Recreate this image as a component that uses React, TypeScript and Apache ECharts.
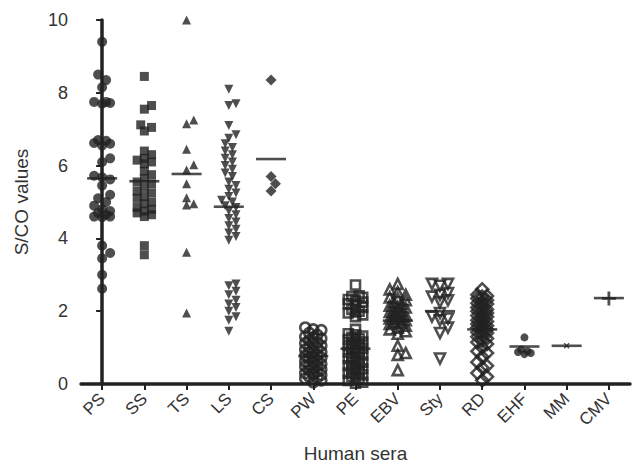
import React, { useEffect, useRef } from "react";
import * as echarts from "echarts";

const categories = ["PS", "SS", "TS", "LS", "CS", "PW", "PE", "EBV", "Sty", "RD", "EHF", "MM", "CMV"];

const PS = [9.4, 8.5, 8.35, 8.15, 7.75, 7.75, 7.72, 7.7, 6.7, 6.68, 6.62, 6.6, 6.55, 6.2, 6.1, 5.72, 5.68, 5.62, 5.45, 5.2, 5.1, 5.0, 4.9, 4.8, 4.75, 4.7, 4.65, 4.6, 4.6, 4.58, 3.8, 3.6, 3.45, 3.0, 2.62];
const SS = [8.45, 7.65, 7.55, 7.12, 7.05, 6.95, 6.4, 6.3, 6.2, 6.15, 6.1, 6.05, 5.85, 5.75, 5.65, 5.55, 5.5, 5.4, 5.3, 5.25, 5.15, 5.1, 5.0, 4.95, 4.85, 4.8, 4.75, 4.7, 4.65, 4.6, 3.8, 3.55];
const TS = [10.0, 7.25, 7.15, 6.45, 6.02, 5.88, 5.5, 5.12, 4.95, 4.92, 3.62, 1.95];
const LS = [8.1, 7.7, 7.65, 7.1, 6.85, 6.75, 6.6, 6.5, 6.4, 6.3, 6.2, 6.1, 6.0, 5.9, 5.8, 5.7, 5.55, 5.45, 5.35, 5.25, 5.15, 5.05, 5.0, 4.9, 4.85, 4.75, 4.65, 4.55, 4.45, 4.35, 4.25, 4.15, 4.05, 3.95, 2.75, 2.7, 2.55, 2.45, 2.3, 2.2, 2.1, 2.0, 1.85, 1.75, 1.45];
const CS = [8.35, 5.7, 5.5, 5.3];
const PW = [1.55, 1.5, 1.48, 1.4, 1.35, 1.3, 1.28, 1.25, 1.2, 1.15, 1.12, 1.1, 1.05, 1.0, 0.98, 0.95, 0.9, 0.88, 0.85, 0.8, 0.78, 0.75, 0.72, 0.7, 0.65, 0.62, 0.6, 0.55, 0.52, 0.5, 0.48, 0.45, 0.4, 0.38, 0.35, 0.3, 0.28, 0.25, 0.2, 0.18, 0.15, 0.1, 0.05];
const PE = [2.72, 2.42, 2.4, 2.38, 2.32, 2.3, 2.25, 2.2, 2.15, 2.1, 2.05, 2.0, 1.98, 1.95, 1.9, 1.85, 1.5, 1.38, 1.35, 1.32, 1.28, 1.25, 1.22, 1.18, 1.15, 1.1, 1.08, 1.05, 1.0, 0.98, 0.95, 0.9, 0.88, 0.85, 0.8, 0.75, 0.72, 0.7, 0.65, 0.6, 0.58, 0.55, 0.5, 0.45, 0.42, 0.4, 0.35, 0.3, 0.28, 0.25, 0.2, 0.15, 0.1, 0.05, 0.02];
const EBV = [2.75, 2.6, 2.52, 2.45, 2.38, 2.35, 2.3, 2.25, 2.2, 2.15, 2.12, 2.1, 2.05, 2.0, 1.98, 1.95, 1.9, 1.88, 1.85, 1.8, 1.78, 1.75, 1.7, 1.68, 1.65, 1.6, 1.55, 1.5, 1.45, 1.38, 1.05, 0.85, 0.8, 0.38];
const Sty = [2.75, 2.75, 2.7, 2.5, 2.45, 2.4, 2.3, 2.25, 1.95, 1.85, 1.8, 1.75, 1.55, 1.4, 0.7];
const RD = [2.6, 2.45, 2.42, 2.4, 2.35, 2.3, 2.25, 2.22, 2.2, 2.15, 2.1, 2.05, 2.02, 2.0, 1.95, 1.9, 1.88, 1.85, 1.8, 1.75, 1.72, 1.7, 1.65, 1.6, 1.58, 1.55, 1.5, 1.45, 1.42, 1.4, 1.35, 1.3, 1.25, 1.2, 1.15, 1.1, 1.0, 0.9, 0.85, 0.75, 0.6, 0.5, 0.45, 0.3, 0.2, 0.1];
const EHF = [1.28, 0.95, 0.9, 0.88, 0.85, 0.82];
const MM = [1.05];
const CMV = [2.35];

const groupMeans = [5.65, 5.57, 5.77, 4.87, 6.18, 0.77, 0.97, 1.74, 2.0, 1.5, 1.03, 1.05, 2.36];

const yMin = 0;
const yMax = 10;
const yInterval = 2;

const W = 633;
const H = 468;
const GRID = { left: 81, right: 3, top: 20, bottom: 81 };
const bandPx = (W - GRID.left - GRID.right) / categories.length;
const unitPx = (H - GRID.top - GRID.bottom) / (yMax - yMin);

const INK = "#222";
const PLUS = "path://M4,0H6V4H10V6H6V10H4V6H0V4H4Z";

const groups = [
  { values: PS, symbol: "circle", size: 10, open: false, rotate: 0, half: 11, gap: 0.75 },
  { values: SS, symbol: "rect", size: 9, open: false, rotate: 0, half: 10, gap: 0.75 },
  { values: TS, symbol: "triangle", size: 9, open: false, rotate: 0, half: 10, gap: 0.75 },
  { values: LS, symbol: "triangle", size: 9, open: false, rotate: 180, half: 10, gap: 0.7 },
  { values: CS, symbol: "diamond", size: 11, open: false, rotate: 0, half: 10, gap: 0.75 },
  { values: PW, symbol: "circle", size: 10, open: true, rotate: 0, half: 9, gap: 0.6 },
  { values: PE, symbol: "rect", size: 9, open: true, rotate: 0, half: 9, gap: 0.6 },
  { values: EBV, symbol: "triangle", size: 10, open: true, rotate: 0, half: 8, gap: 0.6 },
  { values: Sty, symbol: "triangle", size: 10, open: true, rotate: 180, half: 10, gap: 0.75 },
  { values: RD, symbol: "diamond", size: 12, open: true, rotate: 0, half: 8, gap: 0.6 },
  { values: EHF, symbol: "circle", size: 8, open: false, rotate: 0, half: 8, gap: 0.75 },
  { values: MM, symbol: PLUS, size: 7, open: false, rotate: 45, half: 8, gap: 0.75 },
  { values: CMV, symbol: PLUS, size: 14, open: false, rotate: 0, half: 8, gap: 0.75 },
];

// deterministic beeswarm layout (pixel offsets)
function swarm(values: number[], size: number, maxHalf: number, gap: number): number[] {
  const idx = values.map((_, i) => i).sort((a, b) => values[a] - values[b]);
  const placed: { x: number; y: number }[] = [];
  const out = new Array(values.length).fill(0);
  const step = size * 0.4;
  const cands = [0];
  for (let k = 1; k * step <= maxHalf; k++) cands.push(k * step, -k * step);
  for (const i of idx) {
    const y = values[i] * unitPx;
    let best = 0;
    let bestD = -1;
    for (const c of cands) {
      let md = Infinity;
      for (const p of placed) {
        const d = Math.hypot(p.x - c, p.y - y);
        if (d < md) md = d;
      }
      if (md >= size * gap) {
        best = c;
        break;
      }
      if (md > bestD) {
        bestD = md;
        best = c;
      }
    }
    placed.push({ x: best, y });
    out[i] = best;
  }
  return out;
}

export default function App() {
  const ref = useRef<HTMLDivElement>(null);
  useEffect(() => {
    document.body.style.margin = "0";
    if (!ref.current) return;
    const chart = echarts.init(ref.current, undefined, { renderer: "svg" });
    const font = "'Liberation Sans', Arial, sans-serif";

    const pointSeries = groups.map((g, gi) => {
      const offs = swarm(g.values, g.size, g.half, g.gap);
      return {
        type: "scatter",
        name: categories[gi],
        xAxisIndex: 1,
        symbol: g.symbol,
        symbolSize: g.size,
        symbolRotate: g.rotate,
        itemStyle: g.open
          ? { color: "rgba(255,255,255,0)", borderColor: INK, borderWidth: 2.6 }
          : { color: INK },
        data: g.values.map((v, i) => [gi + offs[i] / bandPx, v]),
        z: 2,
      };
    });

    const meanSeries = {
      type: "scatter",
      name: "mean",
      xAxisIndex: 1,
      symbol: "rect",
      symbolSize: [30, 2.6],
      itemStyle: { color: INK },
      data: groupMeans.map((m, i) => [i, m]),
      z: 3,
    };

    chart.setOption({
      animation: false,
      backgroundColor: "#fff",
      grid: { ...GRID },
      xAxis: [
        {
          type: "category",
          data: categories,
          boundaryGap: true,
          axisLine: { show: true, lineStyle: { color: INK, width: 3.5 } },
          axisTick: { show: true, alignWithLabel: true, length: 6, lineStyle: { color: INK, width: 2 } },
          axisLabel: { rotate: 45, fontSize: 17, color: "#333", margin: 12, fontFamily: font },
          splitLine: { show: false },
          name: "Human sera",
          nameLocation: "middle",
          nameGap: 60,
          nameTextStyle: { fontSize: 19, color: "#333", fontFamily: font },
        },
        { type: "value", min: -0.5, max: 12.5, show: false },
      ],
      yAxis: {
        type: "value",
        min: yMin,
        max: yMax,
        interval: yInterval,
        axisLine: { show: true, lineStyle: { color: INK, width: 3.5 } },
        axisTick: { show: true, length: 6, lineStyle: { color: INK, width: 2 } },
        axisLabel: { fontSize: 18, color: "#333", margin: 13, fontFamily: font },
        splitLine: { show: false },
        name: "S/CO values",
        nameLocation: "middle",
        nameGap: 50,
        nameTextStyle: { fontSize: 19, color: "#333", fontFamily: font },
      },
      series: [...pointSeries, meanSeries],
    });
    return () => chart.dispose();
  }, []);
  return <div ref={ref} style={{ width: W, height: H }} />;
}
